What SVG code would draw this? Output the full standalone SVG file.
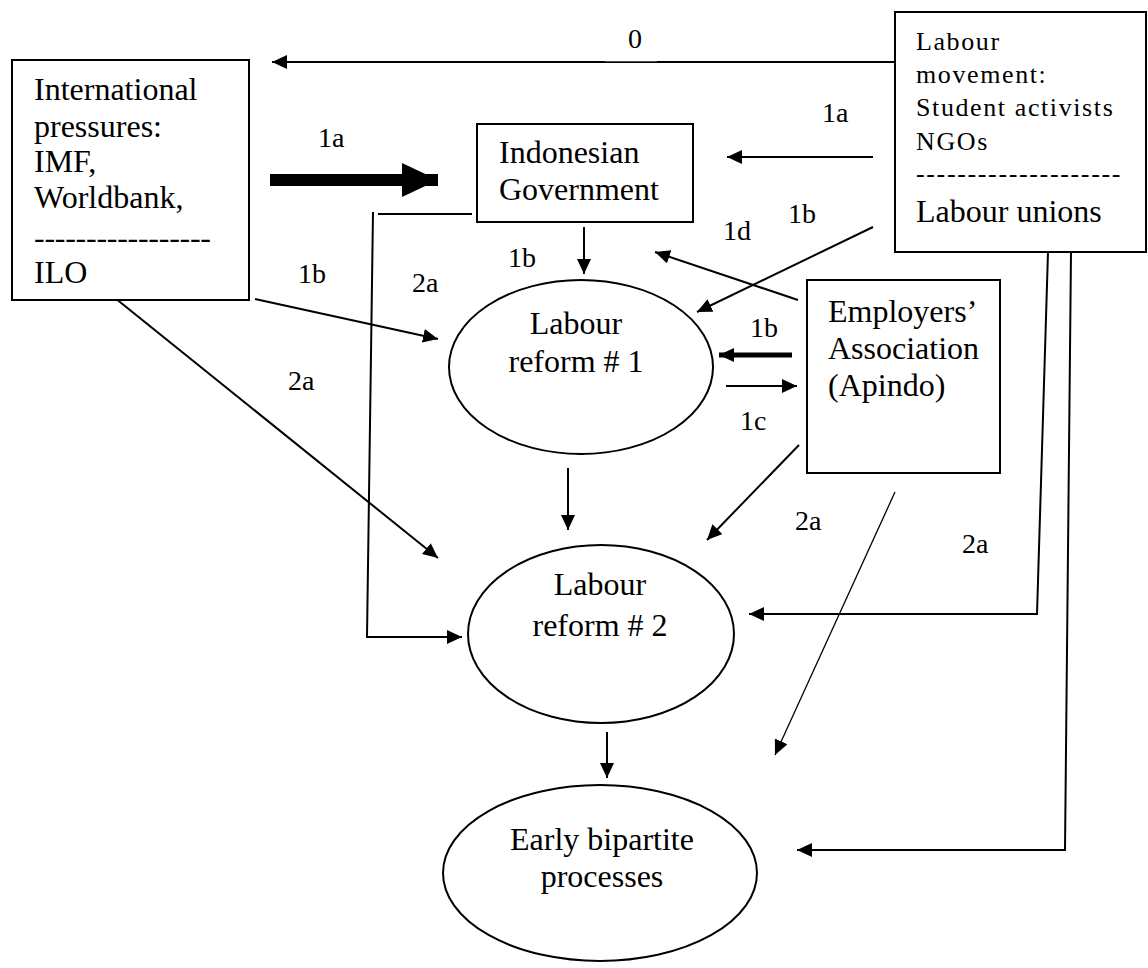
<svg xmlns="http://www.w3.org/2000/svg" width="1148" height="968" viewBox="0 0 1148 968">
<defs>
<style>
text{font-family:'Liberation Serif','DejaVu Serif',serif;fill:#000}
.n{fill:#fff;stroke:#000;stroke-width:2}
.t{font-size:32px}
.s{font-size:26px;letter-spacing:1.6px}
.l{font-size:28px}
.c{fill:none;stroke:#000;stroke-width:2}
.m{text-anchor:middle}
</style>
<marker id="ah" markerUnits="userSpaceOnUse" markerWidth="15" markerHeight="14" refX="15" refY="7" orient="auto">
<path d="M0,0 L15,7 L0,14 Z" fill="#000"/>
</marker>
<marker id="big" markerUnits="userSpaceOnUse" markerWidth="36" markerHeight="34" refX="36" refY="17" orient="auto">
<path d="M0,0 L36,17 L0,34 Z" fill="#000"/>
</marker>
</defs>
<rect width="1148" height="968" fill="#fff"/>

<g id="connectors">
<line class="c" x1="895" y1="62" x2="272" y2="62" marker-end="url(#ah)"/>
<line x1="270" y1="180" x2="438" y2="180" stroke="#000" stroke-width="12" marker-end="url(#big)"/>
<line class="c" x1="873" y1="157" x2="727" y2="157" marker-end="url(#ah)"/>
<line class="c" x1="584" y1="227" x2="584" y2="274" marker-end="url(#ah)"/>
<line class="c" x1="873" y1="227" x2="697" y2="312" marker-end="url(#ah)"/>
<line class="c" x1="798" y1="300" x2="655" y2="252" marker-end="url(#ah)"/>
<line class="c" x1="255" y1="299" x2="438" y2="339" marker-end="url(#ah)"/>
<line class="c" x1="115" y1="298" x2="438" y2="558" marker-end="url(#ah)"/>
<line class="c" x1="472" y1="214" x2="378" y2="214"/>
<polyline class="c" points="373,212 367,637 462,637" marker-end="url(#ah)"/>
<line x1="792" y1="355" x2="719" y2="355" stroke="#000" stroke-width="5" marker-end="url(#ah)"/>
<line class="c" x1="726" y1="386" x2="797" y2="386" marker-end="url(#ah)"/>
<line class="c" x1="568" y1="468" x2="568" y2="530" marker-end="url(#ah)"/>
<line class="c" x1="799" y1="445" x2="707" y2="540" marker-end="url(#ah)"/>
<line x1="895" y1="492" x2="775" y2="755" stroke="#000" stroke-width="1.3" marker-end="url(#ah)"/>
<polyline class="c" points="1048,252 1037,614 749,614" marker-end="url(#ah)"/>
<polyline class="c" points="1071,252 1065,850 797,850" marker-end="url(#ah)"/>
<line class="c" x1="607" y1="732" x2="607" y2="778" marker-end="url(#ah)"/>
</g>

<g id="labels">
<rect x="605" y="26" width="52" height="35.3" fill="#fff"/>
<text class="l" x="628" y="48">0</text>
<text class="l" x="318" y="147">1a</text>
<text class="l" x="822" y="122">1a</text>
<text class="l" x="508" y="267">1b</text>
<text class="l" x="723" y="240">1d</text>
<text class="l" x="788" y="223">1b</text>
<text class="l" x="298" y="283">1b</text>
<text class="l" x="412" y="292">2a</text>
<text class="l" x="288" y="390">2a</text>
<text class="l" x="750" y="337">1b</text>
<text class="l" x="740" y="430">1c</text>
<text class="l" x="795" y="530">2a</text>
<text class="l" x="962" y="553">2a</text>
</g>

<g id="international">
<rect class="n" x="12" y="60" width="237" height="240"/>
<text class="t" x="34" y="100">International</text>
<text class="t" x="34" y="137">pressures:</text>
<text class="t" x="34" y="172">IMF,</text>
<text class="t" x="34" y="208">Worldbank,</text>
<text class="t" x="34" y="248" textLength="177" lengthAdjust="spacing">-----------------</text>
<text class="t" x="34" y="283">ILO</text>
</g>

<g id="government">
<rect class="n" x="477" y="124" width="216" height="98"/>
<text class="t" x="499" y="163">Indonesian</text>
<text class="t" x="499" y="200">Government</text>
</g>

<g id="labour-movement">
<rect class="n" x="895" y="12" width="251" height="240"/>
<text class="s" x="916" y="50">Labour</text>
<text class="s" x="916" y="83">movement:</text>
<text class="s" x="916" y="116">Student activists</text>
<text class="s" x="916" y="150">NGOs</text>
<text class="s" x="916" y="182" textLength="206" lengthAdjust="spacing">--------------------</text>
<text class="t" x="916" y="222">Labour unions</text>
</g>

<g id="employers">
<rect class="n" x="807" y="280" width="193" height="193"/>
<text class="t" x="828" y="322">Employers’</text>
<text class="t" x="828" y="359">Association</text>
<text class="t" x="828" y="396">(Apindo)</text>
</g>

<g id="reform1">
<ellipse class="n" cx="581" cy="367" rx="132" ry="87"/>
<text class="t m" x="576" y="334">Labour</text>
<text class="t m" x="576" y="372">reform # 1</text>
</g>

<g id="reform2">
<ellipse class="n" cx="601" cy="634" rx="133" ry="89"/>
<text class="t m" x="600" y="595">Labour</text>
<text class="t m" x="600" y="636">reform # 2</text>
</g>

<g id="bipartite">
<ellipse class="n" cx="600" cy="873" rx="157" ry="88"/>
<text class="t m" x="602" y="850">Early bipartite</text>
<text class="t m" x="602" y="887">processes</text>
</g>
</svg>
